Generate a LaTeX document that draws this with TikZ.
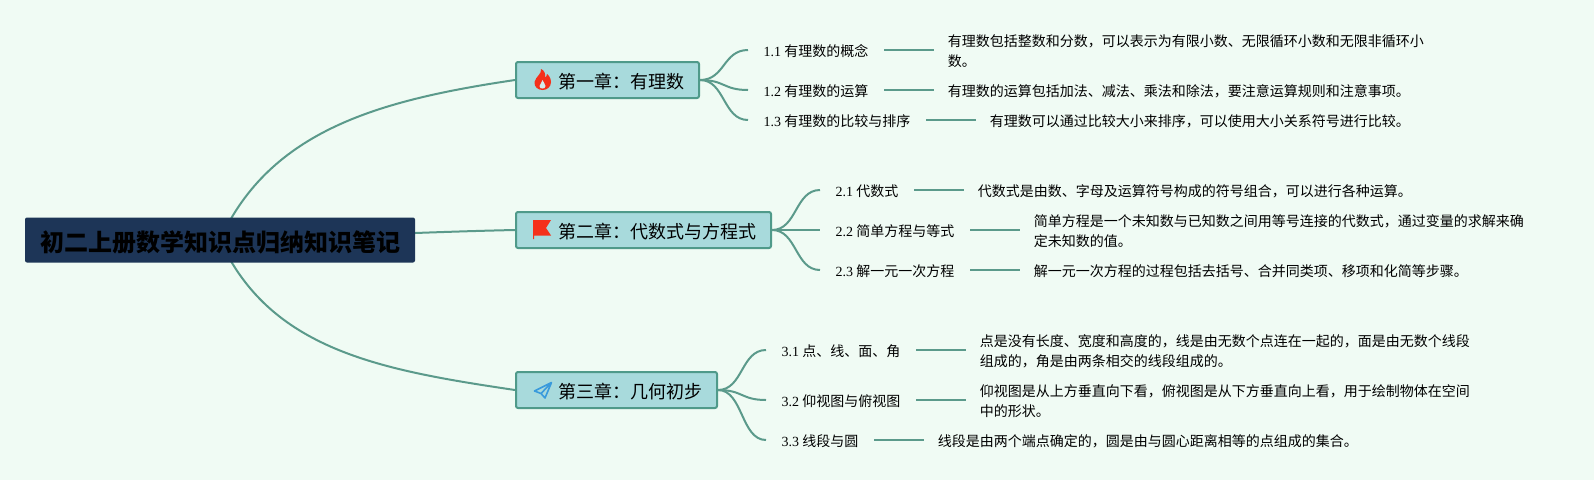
\documentclass[tikz,border=0pt]{standalone}
\usepackage{fontspec}
\setmainfont{Liberation Serif}
\newfontfamily\cjk{Noto Sans CJK SC}
\usetikzlibrary{positioning,backgrounds}
\definecolor{pagebg}{HTML}{F0FBF4}
\definecolor{branchcol}{HTML}{5B9A8B}
\definecolor{rootcol}{HTML}{1D3557}
\definecolor{chapcol}{HTML}{A8DADC}
\definecolor{chapline}{HTML}{4F9A8A}
\definecolor{iconred}{HTML}{F5301A}
\definecolor{iconblue}{HTML}{3A9BDC}
\newcommand{\secno}[1]{{\rmfamily #1} }
\newcommand{\qcomma}{\char"FF0C\relax}
\newcommand{\qcolon}{\char"FF1A\relax}
\begin{document}
\begin{tikzpicture}[x=1pt,y=-1pt,
	root/.style={fill=rootcol,rounded corners=2pt,minimum width=390pt,minimum height=45pt,inner sep=0pt,text height=23pt,text depth=0pt,font=\cjk\bfseries\fontsize{24}{28}\selectfont},
	chapter/.style={draw=chapline,fill=chapcol,line width=2pt,rounded corners=2pt,anchor=west,inner xsep=14.5pt,inner ysep=0pt,minimum height=36pt,text height=16.5pt,text depth=0pt,font=\cjk\fontsize{18}{22}\selectfont},
	topic/.style={anchor=west,inner xsep=15.5pt,inner ysep=0pt,text height=13pt,text depth=0.5pt,font=\cjk\fontsize{14}{20.5}\selectfont},
	detail/.style={inner xsep=14pt,inner ysep=0pt,yshift=-1.2pt,align=left,font=\cjk\fontsize{14}{20}\selectfont},
	branch/.style={draw=branchcol,line width=2pt}]
	\useasboundingbox (0,0) rectangle (1594,480);
	%%%
	\node[root] (book) at (220,240) {初二上册数学知识点归纳知识笔记};
	\node[chapter] (chA) at (515,80) {\hspace*{28pt}第一章\qcolon 有理数};
	\node[chapter] (chB) at (515,230) {\hspace*{28pt}第二章\qcolon 代数式与方程式};
	\node[chapter] (chC) at (515,390) {\hspace*{28pt}第三章\qcolon 几何初步};
	%%%
	\fill[iconred] (541,69) .. controls (542,74) and (536,76) .. (534.5,82) .. controls (534,87) and (538,90) .. (542.5,90) .. controls (547,90) and (551,87) .. (551,82) .. controls (551,78) and (548.5,75) .. (547,74) .. controls (547,76) and (546,77) .. (545,77.5) .. controls (546,74) and (544,70) .. (541,69) -- cycle;
	\fill[chapcol!50!white] (542.5,80) .. controls (542.5,82) and (539.5,84) .. (539.5,86) .. controls (539.5,88) and (541,88.5) .. (542.5,88.5) .. controls (544,88.5) and (545.5,88) .. (545.5,86) .. controls (545.5,84) and (543,82) .. (542.5,80) -- cycle;
	\fill[iconred] (533,220) -- (551,220) -- (546,228) -- (551,235.5) -- (534,235.5) -- (534,239) -- (533,239) -- cycle;
	\draw[iconblue,line width=1.6pt,line join=round] (551.5,382.5) -- (534.5,391) -- (541,393.5) -- (545,398) -- cycle (541,393.5) -- (551.5,382.5);
	%%%
	\node[topic] (topicA) at (748,50) {\secno{1.1}有理数的概念};
	\node[topic] (topicB) at (748,90) {\secno{1.2}有理数的运算};
	\node[topic] (topicC) at (748,120) {\secno{1.3}有理数的比较与排序};
	\node[topic] (topicD) at (820,190) {\secno{2.1}代数式};
	\node[topic] (topicE) at (820,230) {\secno{2.2}简单方程与等式};
	\node[topic] (topicF) at (820,270) {\secno{2.3}解一元一次方程};
	\node[topic] (topicG) at (766,350) {\secno{3.1}点、线、面、角};
	\node[topic] (topicH) at (766,400) {\secno{3.2}仰视图与俯视图};
	\node[topic] (topicI) at (766,440) {\secno{3.3}线段与圆};
	%%%
	\node[detail,right=49.5pt of topicA] (noteA) {有理数包括整数和分数\qcomma 可以表示为有限小数、无限循环小数和无限非循环小\\数。};
	\node[detail,right=49.5pt of topicB] (noteB) {有理数的运算包括加法、减法、乘法和除法\qcomma 要注意运算规则和注意事项。};
	\node[detail,right=49.5pt of topicC] (noteC) {有理数可以通过比较大小来排序\qcomma 可以使用大小关系符号进行比较。};
	\node[detail,right=49.5pt of topicD] (noteD) {代数式是由数、字母及运算符号构成的符号组合\qcomma 可以进行各种运算。};
	\node[detail,right=49.5pt of topicE] (noteE) {简单方程是一个未知数与已知数之间用等号连接的代数式\qcomma 通过变量的求解来确\\定未知数的值。};
	\node[detail,right=49.5pt of topicF] (noteF) {解一元一次方程的过程包括去括号、合并同类项、移项和化简等步骤。};
	\node[detail,right=49.5pt of topicG] (noteG) {点是没有长度、宽度和高度的\qcomma 线是由无数个点连在一起的\qcomma 面是由无数个线段\\组成的\qcomma 角是由两条相交的线段组成的。};
	\node[detail,right=49.5pt of topicH] (noteH) {仰视图是从上方垂直向下看\qcomma 俯视图是从下方垂直向上看\qcomma 用于绘制物体在空间\\中的形状。};
	\node[detail,right=49.5pt of topicI] (noteI) {线段是由两个端点确定的\qcomma 圆是由与圆心距离相等的点组成的集合。};
	%%%
	\begin{scope}[on background layer]
		\fill[pagebg] (0,0) rectangle (1594,480);
		\draw[branch] (book.center) .. controls (270,130) and (380,100) .. (chA.west);
		\draw[branch] (book.center) .. controls (300,238) and (420,232) .. (chB.west);
		\draw[branch] (book.center) .. controls (270,350) and (380,370) .. (chC.west);
	\end{scope}
	%%%
	\draw[branch] (chA.east) .. controls +(25,0) and +(-25,0) .. (topicA.west);
	\draw[branch] (chA.east) .. controls +(25,0) and +(-25,0) .. (topicB.west);
	\draw[branch] (chA.east) .. controls +(25,0) and +(-25,0) .. (topicC.west);
	\draw[branch] (chB.east) .. controls +(25,0) and +(-25,0) .. (topicD.west);
	\draw[branch] (chB.east) -- (topicE.west);
	\draw[branch] (chB.east) .. controls +(25,0) and +(-25,0) .. (topicF.west);
	\draw[branch] (chC.east) .. controls +(25,0) and +(-25,0) .. (topicG.west);
	\draw[branch] (chC.east) .. controls +(25,0) and +(-25,0) .. (topicH.west);
	\draw[branch] (chC.east) .. controls +(25,0) and +(-25,0) .. (topicI.west);
	%%%
	\draw[branch] (topicA.east) -- (topicA.east -| noteA.west);
	\draw[branch] (topicB.east) -- (topicB.east -| noteB.west);
	\draw[branch] (topicC.east) -- (topicC.east -| noteC.west);
	\draw[branch] (topicD.east) -- (topicD.east -| noteD.west);
	\draw[branch] (topicE.east) -- (topicE.east -| noteE.west);
	\draw[branch] (topicF.east) -- (topicF.east -| noteF.west);
	\draw[branch] (topicG.east) -- (topicG.east -| noteG.west);
	\draw[branch] (topicH.east) -- (topicH.east -| noteH.west);
	\draw[branch] (topicI.east) -- (topicI.east -| noteI.west);
\end{tikzpicture}
\end{document}
